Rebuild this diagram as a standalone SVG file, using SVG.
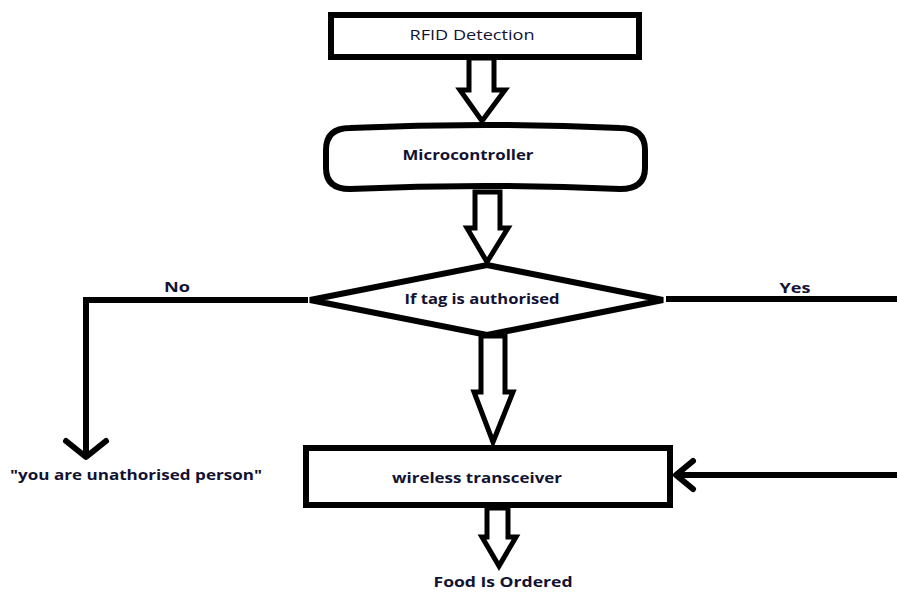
<svg xmlns="http://www.w3.org/2000/svg" width="897" height="592" viewBox="0 0 897 592">
<style>
.box{fill:#fff;stroke:#000;stroke-width:6}
.blk{fill:#fff;stroke:#000;stroke-width:5;stroke-linejoin:miter}
.ln{fill:none;stroke:#000;stroke-width:6;stroke-linecap:butt}
.hd{fill:none;stroke:#000;stroke-width:6;stroke-linecap:round;stroke-linejoin:round}
text{font-family:"Open Sans","Liberation Sans",sans-serif;font-size:15px;fill:#121232;text-anchor:middle}
.b{font-weight:bold}
</style>
<rect width="897" height="592" fill="#fff"/>
<g id="connectors">
<polygon class="blk" points="469,58 469,90 460,90 482,121 505,90 494,90 494,58"/>
<polygon class="blk" points="475,192 475,228 467,228 487,262 508,228 500,228 500,192"/>
<polyline class="ln" points="308,300 86,300 86,455"/>
<polyline class="hd" points="66,441 86,457 106,441"/>
<line class="ln" x1="666" y1="299" x2="897" y2="299"/>
<polygon class="blk" points="481,336 481,392 474,392 493,442 513,392 505,392 505,336"/>
<line class="ln" x1="897" y1="475" x2="676" y2="475"/>
<polyline class="hd" points="693,461 676,475 693,489"/>
<polygon class="blk" points="487,508 487,537 482,537 499,566 516,537 508,537 508,508"/>
<text class="b" x="177" y="292" textLength="26" lengthAdjust="spacingAndGlyphs">No</text>
<text class="b" x="795" y="293" textLength="31" lengthAdjust="spacingAndGlyphs">Yes</text>
</g>
<g id="rfid">
<rect class="box" x="331" y="15" width="308" height="42"/>
<text x="472" y="40" textLength="125" lengthAdjust="spacingAndGlyphs">RFID Detection</text>
</g>
<g id="micro">
<path class="box" d="M350,128 Q485,122 620,128 Q645,128 645,150 L645,168 Q645,189 620,189 Q485,183 350,189 Q326,189 326,168 L326,150 Q326,128 350,128 Z"/>
<text class="b" x="468" y="160" textLength="131" lengthAdjust="spacingAndGlyphs">Microcontroller</text>
</g>
<g id="decision">
<polygon class="box" points="487,265 663,300 487,335 310,300"/>
<text class="b" x="482" y="304" textLength="155" lengthAdjust="spacingAndGlyphs">If tag is authorised</text>
</g>
<g id="unauth">
<text class="b" x="136" y="480" textLength="252" lengthAdjust="spacingAndGlyphs">"you are unathorised person"</text>
</g>
<g id="transceiver">
<rect class="box" x="306" y="448" width="364" height="57"/>
<text class="b" x="477" y="483" textLength="170" lengthAdjust="spacingAndGlyphs">wireless transceiver</text>
</g>
<g id="food">
<text class="b" x="503" y="587" textLength="139" lengthAdjust="spacingAndGlyphs">Food Is Ordered</text>
</g>
</svg>
